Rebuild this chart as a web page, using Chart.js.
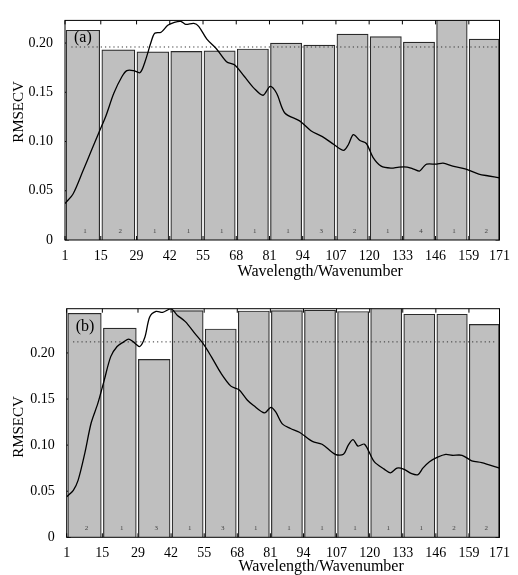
<!DOCTYPE html>
<html>
<head>
<meta charset="utf-8">
<script src="https://cdn.jsdelivr.net/npm/chart.js@4.4.1/dist/chart.umd.min.js"></script>
<style>
  body { margin: 0; background: #fff; }
  #wrap { position: relative; width: 518px; height: 575px; }
  canvas { position: absolute; left: 0; }
  #chartA { top: 0; }
  #chartB { top: 280px; }
</style>
</head>
<body>
<div id="wrap">
  <canvas id="chartA" width="518" height="280"></canvas>
  <canvas id="chartB" width="518" height="295"></canvas>
</div>
<script>
// interval edges (variable index) and y tick values
const edges = [1, 15, 29, 42, 55, 68, 81, 94, 107, 120, 133, 146, 159, 171];
const yTicks = [0, 0.05, 0.1, 0.15, 0.2];

// panel (a)
const rmsecvA = [0.213, 0.193, 0.191, 0.1915, 0.192, 0.194, 0.2, 0.198, 0.209, 0.2065, 0.201, 0.235, 0.204];
const lvA = [1, 2, 1, 1, 1, 1, 1, 3, 2, 1, 4, 1, 2];
const fullA = 0.196;
const specAX = [1, 4.2, 8, 11.2, 14.4, 17, 20.1, 23.3, 25.2, 27.8, 30.4, 32.3, 34.8, 36.1, 38.6, 41.2, 43.8, 46.3, 48.2, 51.4, 53.3, 56.5, 60.3, 64.2, 67.3, 71.2, 75, 78.5, 81.3, 83.8, 87, 92.8, 97.2, 101.7, 106.2, 110, 111.9, 113.8, 116.4, 118.9, 121.5, 124.7, 128.5, 131.7, 134.9, 137.4, 139.7, 141.2, 142.5, 146.4, 148.9, 152.7, 157.9, 162.9, 166.8, 171];
const specAY = [0.037, 0.047, 0.07, 0.09, 0.11, 0.126, 0.149, 0.166, 0.172, 0.172, 0.17, 0.181, 0.202, 0.21, 0.211, 0.218, 0.221, 0.222, 0.219, 0.22, 0.217, 0.204, 0.194, 0.181, 0.178, 0.166, 0.154, 0.147, 0.156, 0.149, 0.129, 0.121, 0.111, 0.105, 0.097, 0.091, 0.097, 0.107, 0.101, 0.098, 0.084, 0.075, 0.073, 0.074, 0.074, 0.072, 0.07, 0.074, 0.077, 0.077, 0.078, 0.075, 0.072, 0.067, 0.065, 0.063];

// panel (b)
const rmsecvB = [0.243, 0.227, 0.193, 0.246, 0.226, 0.2455, 0.246, 0.2465, 0.245, 0.26, 0.242, 0.242, 0.231];
const lvB = [2, 1, 3, 1, 3, 1, 1, 1, 1, 1, 1, 2, 2];
const fullB = 0.212;
const specBX = [1, 3.6, 5.5, 8.1, 10.6, 13.2, 15.7, 18.3, 20.8, 23.4, 25.3, 27.2, 29.7, 31.7, 33.6, 36.1, 38.7, 41.9, 44.4, 47.6, 51.4, 54.6, 57.8, 61.6, 65.5, 68.7, 71.9, 74.4, 78.7, 81.2, 83.1, 85.7, 88.9, 92.4, 97.5, 101.3, 106.5, 109.7, 111.6, 113.5, 115.4, 118, 121.8, 125.7, 128.2, 130.7, 133.3, 136.5, 139, 140.9, 143.5, 146.7, 149.9, 152.4, 156.3, 160.1, 164, 171];
const specBY = [0.044, 0.051, 0.062, 0.091, 0.124, 0.145, 0.17, 0.196, 0.207, 0.212, 0.215, 0.212, 0.207, 0.217, 0.239, 0.245, 0.244, 0.248, 0.241, 0.234, 0.221, 0.21, 0.196, 0.178, 0.164, 0.16, 0.149, 0.143, 0.135, 0.141, 0.136, 0.123, 0.118, 0.114, 0.104, 0.101, 0.09, 0.09, 0.1, 0.106, 0.099, 0.101, 0.082, 0.074, 0.07, 0.075, 0.074, 0.069, 0.068, 0.075, 0.082, 0.087, 0.09, 0.089, 0.089, 0.083, 0.081, 0.075];

const serif = "'Liberation Serif', 'Times New Roman', serif";
const centers = edges.slice(1).map((e, i) => (edges[i] + e) / 2);

const framePlugin = {
  id: "frame",
  beforeDatasetsDraw(chart) {
    const { ctx, chartArea: a, scales } = chart;
    ctx.save();
    ctx.strokeStyle = "#000";
    ctx.lineWidth = 1;
    ctx.beginPath();
    scales.x.ticks.forEach((t) => {
      const px = scales.x.getPixelForValue(t.value);
      ctx.moveTo(px, a.top);
      ctx.lineTo(px, a.top + 4);
      ctx.moveTo(px, a.bottom);
      ctx.lineTo(px, a.bottom - 4);
    });
    scales.y.ticks.forEach((t) => {
      const py = scales.y.getPixelForValue(t.value);
      ctx.moveTo(a.left, py);
      ctx.lineTo(a.left + 4, py);
      ctx.moveTo(a.right, py);
      ctx.lineTo(a.right - 4, py);
    });
    ctx.stroke();
    ctx.restore();
  },
  afterDatasetsDraw(chart, args, opts) {
    const { ctx, chartArea: a, scales } = chart;
    ctx.save();
    ctx.strokeStyle = "#000";
    ctx.lineWidth = 1;
    ctx.strokeRect(a.left, a.top, a.right - a.left, a.bottom - a.top);

    // number of latent variables inside each bar
    const bars = chart.getDatasetMeta(2).data;
    ctx.fillStyle = "#444";
    ctx.font = "7px " + serif;
    ctx.textAlign = "center";
    ctx.textBaseline = "middle";
    bars.forEach((b, i) => {
      ctx.fillText(String(opts.lv[i]), b.x + 2, scales.y.getPixelForValue(0) - 9);
    });

    ctx.fillStyle = "#000";
    ctx.font = "16px " + serif;
    ctx.textAlign = "left";
    ctx.textBaseline = "alphabetic";
    ctx.fillText(opts.tag, a.left + 9, a.top + 22);

    ctx.font = "16px " + serif;
    ctx.textAlign = "center";
    ctx.fillText("Wavelength/Wavenumber", (a.left + a.right) / 2 + 38, opts.xTitleY);

    ctx.translate(19, opts.yTitleY);
    ctx.rotate(-Math.PI / 2);
    ctx.font = "15px " + serif;
    ctx.textBaseline = "middle";
    ctx.fillText("RMSECV", 0, 0);
    ctx.restore();
  },
};

function makePanel(id, p) {
  return new Chart(document.getElementById(id), {
    type: "bar",
    data: {
      datasets: [
        {
          type: "line",
          data: p.specX.map((x, i) => ({ x, y: p.specY[i] })),
          borderColor: "#000",
          borderWidth: 1.3,
          pointRadius: 0,
          tension: 0.3,
          order: 1,
        },
        {
          type: "line",
          data: [{ x: 3.5, y: p.full }, { x: 170, y: p.full }],
          borderColor: "#333",
          borderWidth: 1,
          borderDash: [1.2, 3],
          pointRadius: 0,
          order: 2,
        },
        {
          data: centers.map((x, i) => ({ x, y: p.rmsecv[i] })),
          backgroundColor: "#bfbfbf",
          borderColor: "#2a2a2a",
          borderWidth: 1.2,
          barThickness: "flex",
          barPercentage: 0.94,
          categoryPercentage: 1,
          order: 3,
        },
      ],
    },
    options: {
      responsive: false,
      animation: false,
      layout: { padding: { top: p.top, left: 0, right: p.right, bottom: 0 } },
      plugins: {
        legend: { display: false },
        tooltip: { enabled: false },
        frame: { lv: p.lv, tag: p.tag, xTitleY: p.xTitleY, yTitleY: p.yTitleY },
      },
      scales: {
        x: {
          type: "linear",
          min: 1,
          max: 171,
          offset: false,
          grid: { display: false, drawTicks: false },
          border: { display: false },
          afterBuildTicks: (s) => {
            s.ticks = edges.map((v) => ({ value: v }));
          },
          afterFit: (s) => {
            s.height = p.xAxisH;
          },
          ticks: {
            autoSkip: false,
            maxRotation: 0,
            padding: 8,
            color: "#000",
            font: { family: serif, size: 14 },
            callback: (v) => String(v),
          },
        },
        y: {
          min: 0,
          max: p.yMax,
          grid: { display: false, drawTicks: false },
          border: { display: false },
          afterBuildTicks: (s) => {
            s.ticks = yTicks.map((v) => ({ value: v }));
          },
          afterFit: (s) => {
            s.width = p.left;
          },
          ticks: {
            padding: 12,
            color: "#000",
            font: { family: serif, size: 14 },
            callback: (v) => (v === 0 ? "0" : v.toFixed(2)),
          },
        },
      },
    },
    plugins: [framePlugin],
  });
}

makePanel("chartA", {
  rmsecv: rmsecvA, lv: lvA, full: fullA, specX: specAX, specY: specAY,
  yMax: 0.223, tag: "(a)",
  top: 10, left: 65, right: 9, xAxisH: 40,
  xTitleY: 276, yTitleY: 112,
});

makePanel("chartB", {
  rmsecv: rmsecvB, lv: lvB, full: fullB, specX: specBX, specY: specBY,
  yMax: 0.248, tag: "(b)",
  top: 28.7, left: 66.7, right: 7.3, xAxisH: 37.7,
  xTitleY: 291, yTitleY: 147,
});
</script>
</body>
</html>
